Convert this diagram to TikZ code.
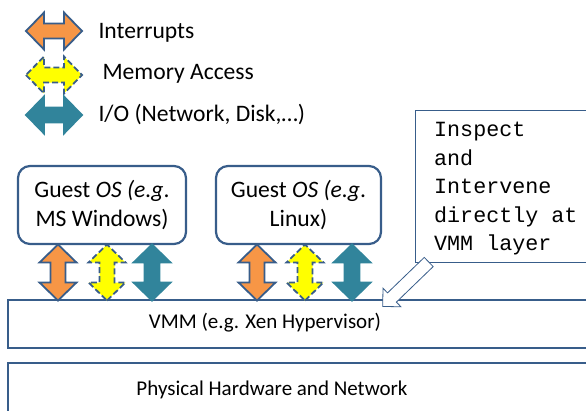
\documentclass[tikz,border=0pt]{standalone}
\usepackage{fontspec}
\setmainfont{Carlito}
\newfontfamily\callfont{Liberation Mono}
\usetikzlibrary{shapes.arrows}
\definecolor{edgeblue}{RGB}{56,93,138}
\definecolor{irqorange}{RGB}{247,150,70}
\definecolor{memyellow}{RGB}{255,255,0}
\definecolor{ioteal}{RGB}{49,132,155}
\tikzset{
  pics/twoway/.style={code={
    \path[pic actions] (-28,0) -- (-10,18.5) -- (-10,7.5) -- (10,7.5) -- (10,18.5)
      -- (28,0) -- (10,-18.5) -- (10,-7.5) -- (-10,-7.5) -- (-10,-18.5) -- cycle;}},
  irq/.style={draw=edgeblue, line width=1.8pt, line join=miter, fill=irqorange},
  mem/.style={draw=edgeblue, line width=1.8pt, fill=memyellow, dash pattern=on 6pt off 3pt},
  io/.style={draw=ioteal, line width=1.8pt, fill=ioteal},
  guest/.style={draw=edgeblue, line width=2.2pt, rounded corners=12pt, fill=white,
    minimum width=#1, minimum height=78pt, align=center, font=\fontsize{23.6}{28.5}\selectfont},
  layer/.style={draw=edgeblue, line width=2.2pt},
  legendtext/.style={anchor=west, font=\fontsize{23.6}{28}\selectfont},
  layertext/.style={font=\fontsize{21}{25}\selectfont}
}
\begin{document}
\begin{tikzpicture}[x=1pt,y=-1pt]
\useasboundingbox (0,0) rectangle (586,410);
\clip (0,0) rectangle (586,410);
% legend
\pic[irq] (irqkey) at (54,31) {twoway};
\node[legendtext] (irqtext) at (95,33) {Interrupts};
\pic[mem] (memkey) at (54,75) {twoway};
\node[legendtext] (memtext) at (99,74) {Memory Access};
\pic[io] (iokey) at (54,115) {twoway};
\node[legendtext] (iotext) at (95,115) {I/O (Network, Disk,\dots)};

% layers
\draw[layer] (8,300) rectangle (600,348);
\node[layertext] (vmm) at (265,323) {VMM (e.g. Xen Hypervisor)};
\draw[layer] (8,363) rectangle (600,420);
\node[layertext] (hw) at (272,390) {Physical Hardware and Network};

% guests
\node[guest=168pt] (win) at (102,205) {Guest \textit{OS (e.g}.\\MS Windows)};
\node[guest=165pt] (linux) at (298.5,205) {Guest \textit{OS (e.g}.\\Linux)};

\foreach \x/\k in {58/irq,107/mem,152/io,257/irq,305/mem,352/io}
  \pic[\k, rotate=90] (v\x) at (\x,272.5) {twoway};

% callout
\draw[draw=edgeblue, line width=0.8pt, fill=white] (415,110) rectangle (600,262);
\node[anchor=north west, align=left, inner sep=0pt, font=\callfont\fontsize{21.7}{28.5}\selectfont]
  (note) at (434,122) {Inspect\\and\\Intervene\\directly at\\VMM layer};
\node[single arrow, draw=edgeblue, line width=0.8pt, fill=white, inner sep=0pt,
  inner ysep=6pt, single arrow head extend=6.5pt, minimum height=64pt, rotate=224]
  (pointer) at (408,282) {};
\end{tikzpicture}
\end{document}
